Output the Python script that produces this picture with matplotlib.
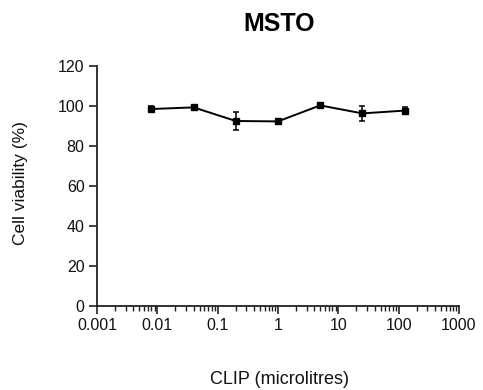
import numpy as np
import matplotlib
matplotlib.use("Agg")
import matplotlib.pyplot as plt
from matplotlib.ticker import LogLocator, FixedLocator, NullFormatter

plt.rcParams['font.family'] = ['Liberation Sans', 'DejaVu Sans']

concentration = [0.008, 0.04, 0.2, 1, 5, 25, 125]
viability = [98.5, 99.3, 92.5, 92.3, 100.3, 96.3, 97.7]
viability_err = [1.6, 0.5, 4.5, 1.0, 0.5, 3.6, 1.9]
x_ticks = [0.001, 0.01, 0.1, 1, 10, 100, 1000]
x_tick_labels = ["0.001", "0.01", "0.1", "1", "10", "100", "1000"]
y_ticks = [0, 20, 40, 60, 80, 100, 120]

W, H = 483, 390
fig = plt.figure(figsize=(W / 100, H / 100), dpi=100)
ax = fig.add_axes([97 / W, 1 - 306 / H, (459 - 97) / W, (306 - 66) / H])

ax.errorbar(concentration, viability, yerr=viability_err, color='black',
            marker='s', markersize=5, linewidth=1.4, elinewidth=1.1,
            capsize=2.5, capthick=1.1)

ax.set_xscale('log')
ax.set_xlim(0.001, 1000)
ax.set_ylim(0, 120)
ax.xaxis.set_major_locator(FixedLocator(x_ticks))
ax.set_xticklabels(x_tick_labels)
ax.xaxis.set_minor_locator(LogLocator(base=10, subs=np.arange(2, 10), numticks=20))
ax.xaxis.set_minor_formatter(NullFormatter())
ax.set_yticks(y_ticks)

for s in ['top', 'right']:
    ax.spines[s].set_visible(False)
for s in ['left', 'bottom']:
    ax.spines[s].set_linewidth(1.3)
    ax.spines[s].set_color('#222222')

ax.tick_params(axis='both', which='major', length=6, width=1.2, labelsize=11.5,
               colors='#222222', labelcolor='#111111', pad=3)
ax.tick_params(axis='x', which='minor', length=3.5, width=1.0, colors='#222222')

fig.text(279 / W, 1 - 24 / H, "MSTO", fontsize=18, fontweight='bold',
         ha='center', va='center')
fig.text(20.5 / W, 1 - 183 / H, "Cell viability (%)", fontsize=12.5,
         rotation=90, ha='center', va='center', color='#111111')
fig.text(280 / W, 1 - 380 / H, "CLIP (microlitres)", fontsize=13,
         ha='center', va='center', color='#111111')

fig.savefig("out.png", dpi=100)
